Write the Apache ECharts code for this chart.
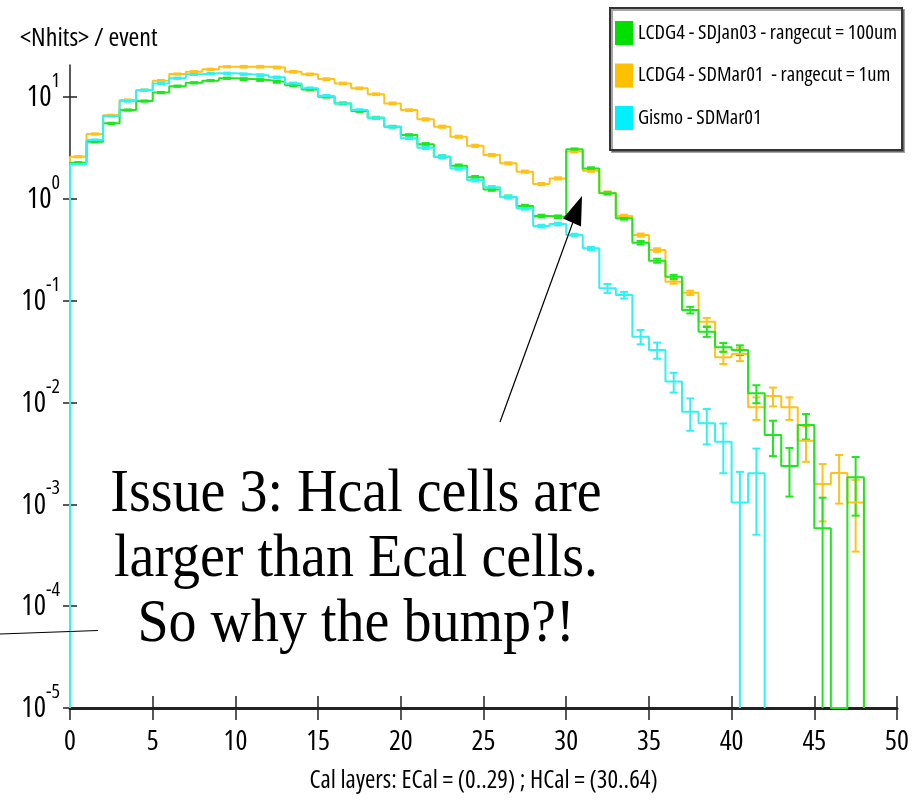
<!DOCTYPE html>
<html>
<head>
<meta charset="utf-8">
<script src="https://cdn.jsdelivr.net/npm/echarts@6/dist/echarts.min.js"></script>
<style>
html,body{margin:0;padding:0;background:#fff;}
#c{width:913px;height:801px;}
</style>
</head>
<body>
<div id="c"></div>
<script>
// ---------- data (bin i spans [i, i+1]) ----------
const seriesNames = [
  'LCDG4 - SDJan03 - rangecut = 100um',
  'LCDG4 - SDMar01  - rangecut = 1um',
  'Gismo - SDMar01'
];
const greenVals = [2.25,3.61,5.48,7.40,9.07,11.0,12.7,13.7,14.4,15.2,
  14.9,14.6,14.0,13.0,11.8,10.0,8.61,7.24,6.22,5.08,
  4.21,3.41,2.58,2.10,1.62,1.23,1.04,0.845,0.675,0.664,
  3.05,1.98,1.13,0.641,0.369,0.246,0.171,0.0807,0.0494,0.0348,
  0.0327,0.01227,0.00479,0.00238,0.006,0.00058,0,0.00184];
const orangeVals = [2.58,4.31,6.57,9.28,11.6,14.4,16.7,17.6,18.6,19.7,
  19.7,19.7,19.4,17.6,16.6,14.9,13.5,12.1,10.6,8.61,
  7.40,6.00,5.08,4.05,3.30,2.68,2.22,1.84,1.39,1.58,
  2.90,1.88,1.14,0.675,0.439,0.313,0.153,0.119,0.0619,0.0277,
  0.0299,0.00896,0.01156,0.00896,0.00421,0.00158,0.00203,0.00104];
const cyanVals = [2.19,3.76,6.47,9.07,11.6,13.5,15.2,16.6,17.0,17.0,
  16.6,16.3,15.5,13.5,12.1,10.2,8.61,7.40,6.22,5.08,
  3.91,3.16,2.58,1.98,1.52,1.29,1.04,0.803,0.538,0.564,
  0.439,0.325,0.132,0.113,0.0442,0.0327,0.0160,0.0081,0.00624,0.00411,
  0.00104,0.00201];
// relative errors (sigma / value) per bin
const greenErr = [0.015,0.015,0.015,0.015,0.015,0.015,0.015,0.015,0.015,0.015,
  0.02,0.02,0.02,0.02,0.02,0.02,0.02,0.02,0.02,0.02,
  0.02,0.03,0.03,0.03,0.03,0.03,0.03,0.03,0.03,0.03,
  0.02,0.025,0.03,0.03,0.04,0.045,0.045,0.075,0.11,0.10,
  0.11,0.20,0.38,0.50,0.28,1.0,0,0.58];
const orangeErr = [0.015,0.015,0.015,0.015,0.015,0.015,0.015,0.015,0.015,0.015,
  0.02,0.02,0.02,0.02,0.02,0.02,0.02,0.02,0.02,0.02,
  0.02,0.025,0.025,0.025,0.025,0.025,0.025,0.025,0.025,0.025,
  0.02,0.025,0.03,0.03,0.035,0.04,0.045,0.05,0.09,0.14,
  0.15,0.25,0.21,0.25,0.38,0.57,0.50,0.67];
const cyanErr = [0.015,0.015,0.015,0.015,0.015,0.015,0.015,0.015,0.015,0.015,
  0.02,0.02,0.02,0.02,0.02,0.02,0.02,0.02,0.02,0.02,
  0.02,0.03,0.03,0.03,0.03,0.03,0.03,0.03,0.03,0.03,
  0.03,0.035,0.10,0.075,0.16,0.18,0.22,0.35,0.38,0.51,
  1.0,0.75];
const xTicks = [0,5,10,15,20,25,30,35,40,45,50];
const yTicks = [1e-5,1e-4,1e-3,1e-2,1e-1,1,10];
const YMIN = 1e-5, YMAX = 20.5;

// ---------- styles ----------
const COL_G = '#1fe61f', COL_O = '#ffc21a', COL_C = '#2ff2f2';
const LEG_G = '#00e000', LEG_O = '#ffc000', LEG_C = '#00f0ff';
const SANS = '"Open Sans","DejaVu Sans",sans-serif';
const COND = '500 condensed';          // font-weight + font-stretch
const SERIF = '"Liberation Serif","Times New Roman",serif';

function stepData(vals) {
  const d = [[0, YMIN]];
  for (let i = 0; i < vals.length; i++) d.push([i, vals[i] > 0 ? vals[i] : YMIN]);
  d.push([vals.length, vals[vals.length - 1]]);
  d.push([vals.length, YMIN]);
  return d;
}
function errData(vals, rel) {
  const d = [];
  for (let i = 0; i < vals.length; i++) {
    const v = vals[i];
    if (!(v > 0) || !(rel[i] > 0)) continue;
    const s = v * rel[i];
    d.push([i + 0.5, v, v + s, Math.max(v - s, YMIN)]);
  }
  return d;
}
function errRender(color) {
  return function (params, api) {
    const x = api.value(0), hi = api.value(2), lo = api.value(3);
    const pt = api.coord([x, hi]);
    const pb = api.coord([x, lo]);
    const st = { stroke: color, lineWidth: 2 };
    const ch = [
      { type: 'line', shape: { x1: pt[0], y1: pt[1], x2: pb[0], y2: pb[1] }, style: st },
      { type: 'line', shape: { x1: pt[0] - 4, y1: pt[1], x2: pt[0] + 4, y2: pt[1] }, style: st }
    ];
    if (lo > YMIN) ch.push({ type: 'line', shape: { x1: pb[0] - 4, y1: pb[1], x2: pb[0] + 4, y2: pb[1] }, style: st });
    return { type: 'group', children: ch };
  };
}
function lineSeries(name, vals, color) {
  return { name: name, type: 'line', step: 'end', data: stepData(vals), showSymbol: false, symbol: 'none',
    clip: false, lineStyle: { color: color, width: 2 }, itemStyle: { color: color }, z: 3 };
}
function errSeries(vals, rel, color) {
  return { type: 'custom', data: errData(vals, rel), renderItem: errRender(color), encode: { x: 0, y: 1 },
    clip: false, z: 3, silent: true };
}

const chart = echarts.init(document.getElementById('c'), null, { renderer: 'canvas' });
chart.setOption({
  animation: false,
  backgroundColor: '#fff',
  grid: { left: 70, right: 16, top: 65, bottom: 93, containLabel: false },
  legend: {
    orient: 'vertical', left: 610, top: 8,
    itemWidth: 18, itemHeight: 24, itemGap: 18.5,
    padding: [13, 5, 20, 5],
    backgroundColor: '#fff', borderColor: '#333', borderWidth: 2,
    shadowColor: 'rgba(0,0,0,0.35)', shadowOffsetX: 2, shadowOffsetY: 2, shadowBlur: 0,
    textStyle: { color: '#000', fontSize: 20.5, fontFamily: SANS, fontWeight: COND },
    selectedMode: false,
    data: [
      { name: seriesNames[0], icon: 'rect', itemStyle: { color: LEG_G } },
      { name: seriesNames[1], icon: 'rect', itemStyle: { color: LEG_O } },
      { name: seriesNames[2], icon: 'rect', itemStyle: { color: LEG_C } }
    ]
  },
  xAxis: [{
    type: 'value', min: 0, max: 50, interval: 5,
    name: 'Cal layers: ECal = (0..29) ; HCal = (30..64)', nameLocation: 'middle', nameGap: 60,
    nameTextStyle: { color: '#000', fontSize: 25, fontFamily: SANS, fontWeight: COND },
    axisLine: { show: true, onZero: false, lineStyle: { color: '#222', width: 3 } },
    axisTick: { show: true, inside: false, length: 12, customValues: xTicks, lineStyle: { color: '#222', width: 1.5 } },
    axisLabel: { fontSize: 28, margin: 20, customValues: xTicks, color: '#000', fontFamily: SANS, fontWeight: COND },
    splitLine: { show: false }
  }, {
    type: 'value', min: 0, max: 50, interval: 5, position: 'bottom',
    axisLine: { show: false },
    axisTick: { show: true, inside: true, length: 12, customValues: xTicks, lineStyle: { color: '#222', width: 1.5 } },
    axisLabel: { show: false }, splitLine: { show: false }
  }],
  yAxis: [{
    type: 'log', logBase: 10, min: YMIN, max: YMAX,
    axisLine: { show: true, onZero: false, lineStyle: { color: '#222', width: 1.5 } },
    axisTick: { show: true, inside: false, length: 7, customValues: yTicks, lineStyle: { color: '#222', width: 1.5 } },
    axisLabel: {
      customValues: yTicks, margin: 10,
      formatter: function (v) { const e = Math.round(Math.log10(v)); return '{b|10}{s|' + e + '}'; },
      rich: {
        b: { fontSize: 29, fontFamily: SANS, fontWeight: COND, color: '#000', padding: [12, 0, 10, 0] },
        s: { fontSize: 20, fontFamily: SANS, fontWeight: COND, color: '#000', verticalAlign: 'top' }
      }
    },
    splitLine: { show: false }
  }, {
    type: 'log', logBase: 10, min: YMIN, max: YMAX, position: 'left',
    axisLine: { show: false },
    axisTick: { show: true, inside: true, length: 7, customValues: yTicks, lineStyle: { color: '#222', width: 1.5 } },
    axisLabel: { show: false }, splitLine: { show: false }
  }],
  series: [
    lineSeries(seriesNames[1], orangeVals, COL_O),
    errSeries(orangeVals, orangeErr, COL_O),
    lineSeries(seriesNames[0], greenVals, COL_G),
    errSeries(greenVals, greenErr, COL_G),
    lineSeries(seriesNames[2], cyanVals, COL_C),
    errSeries(cyanVals, cyanErr, COL_C)
  ],
  graphic: [
    { type: 'text', left: 20, top: 26, style: { text: '<Nhits> / event', fill: '#000', font: COND + ' 26px ' + SANS } },
    { type: 'line', shape: { x1: 500, y1: 422, x2: 573, y2: 222 }, style: { stroke: '#000', lineWidth: 1.2 }, z: 10 },
    { type: 'polygon', shape: { points: [[582, 196], [563, 218.5], [581, 226.5]] }, style: { fill: '#000' }, z: 10 },
    { type: 'line', shape: { x1: 0, y1: 634, x2: 98, y2: 630.5 }, style: { stroke: '#000', lineWidth: 1.2 }, z: 10 },
    { type: 'text', x: 356, y: 495, scaleY: 1.1, style: { text: 'Issue 3: Hcal cells are', fill: '#000', font: '56px ' + SERIF, align: 'center', verticalAlign: 'middle' }, z: 10 },
    { type: 'text', x: 356, y: 560, scaleY: 1.1, style: { text: 'larger than Ecal cells.', fill: '#000', font: '56px ' + SERIF, align: 'center', verticalAlign: 'middle' }, z: 10 },
    { type: 'text', x: 356, y: 625, scaleY: 1.1, style: { text: 'So why the bump?!', fill: '#000', font: '56px ' + SERIF, align: 'center', verticalAlign: 'middle' }, z: 10 }
  ]
});
</script>
</body>
</html>
